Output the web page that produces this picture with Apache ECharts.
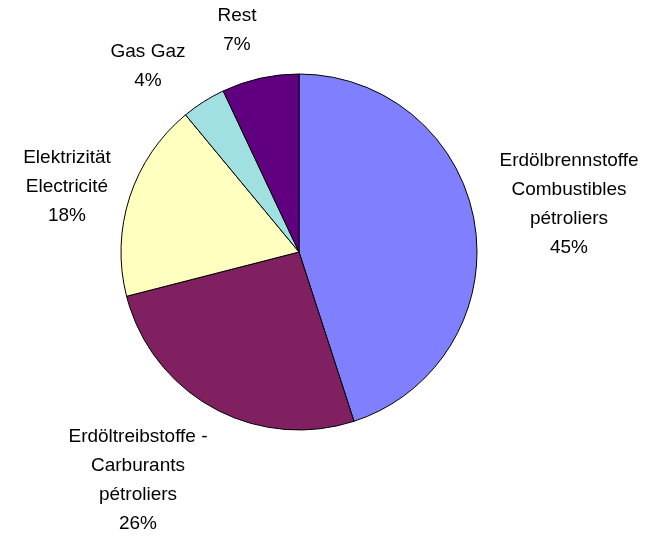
<!DOCTYPE html>
<html>
<head>
<meta charset="utf-8">
<script src="https://cdn.jsdelivr.net/npm/echarts@6/dist/echarts.min.js"></script>
<style>
html,body{margin:0;padding:0;background:#fff;}
#chart{width:666px;height:543px;}
</style>
</head>
<body>
<div id="chart"></div>
<script>
// Anteile (Prozent), im Uhrzeigersinn ab 12 Uhr
var names = [
	'Erdölbrennstoffe\nCombustibles\npétroliers',
	'Erdöltreibstoffe -\nCarburants\npétroliers',
	'Elektrizität\nElectricité',
	'Gas Gaz',
	'Rest'
];
var values = [45, 26, 18, 4, 7];
var colors = ['#8080FF', '#802060', '#FFFFC0', '#A0E0E0', '#600080'];

// Lage der Beschriftungen (Mitte des Textblocks)
var labelX = [569, 138, 67, 148, 237];
var labelY = [204, 480, 187, 66, 30];

var chart = echarts.init(document.getElementById('chart'));
chart.setOption({
	animation: false,
	series: [{
		type: 'pie',
		center: [299, 252],
		radius: [0, 178],
		startAngle: 90,
		clockwise: true,
		itemStyle: {borderColor: '#000', borderWidth: 1},
		label: {
			show: true,
			formatter: '{b}\n{d}%',
			fontFamily: 'Liberation Sans, Arial, sans-serif',
			fontSize: 19,
			lineHeight: 29,
			color: '#000',
			align: 'center',
			overflow: 'none'
		},
		labelLine: {show: false},
		labelLayout: function (p) {
			return {x: labelX[p.dataIndex], y: labelY[p.dataIndex], align: 'center', verticalAlign: 'middle'};
		},
		emphasis: {disabled: true},
		data: names.map(function (n, i) {
			return {name: n, value: values[i], itemStyle: {color: colors[i]}};
		})
	}]
});
</script>
</body>
</html>
